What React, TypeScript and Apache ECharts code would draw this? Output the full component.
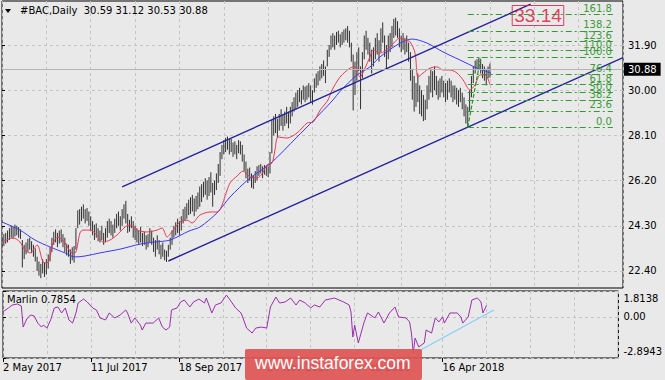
import React, { useEffect, useRef } from 'react';
import * as echarts from 'echarts';

// ---- data ----
const barLow = [
  23.35,23.45,23.55,23.6,23.7,23.8,23.75,23.85,23.9,23.8,23.75,22.55,22.9,23.1,23.2,23.3,23.15,23.0,22.8,22.4,
  22.2,22.1,22.3,22.15,22.25,22.5,22.8,23.2,23.5,23.6,23.4,23.55,23.6,23.4,23.2,23.05,23.0,22.7,22.85,22.75,
  23.3,24.2,24.35,24.5,24.6,24.4,24.5,24.3,24.1,23.9,23.7,23.8,23.65,23.6,23.7,23.5,23.6,23.8,24.0,23.9,
  23.8,24.0,24.2,24.3,24.1,24.3,24.6,24.4,24.0,24.05,24.2,23.8,23.7,23.6,23.5,23.6,23.45,23.5,23.3,23.4,
  23.6,23.5,23.2,23.0,23.3,23.1,22.9,23.0,22.85,22.78,23.0,23.3,23.5,23.8,23.9,24.0,23.9,24.1,24.4,24.5,
  24.6,24.75,24.8,24.9,24.7,24.9,25.0,25.1,25.3,25.5,25.6,25.4,25.55,25.7,25.1,25.6,25.8,26.1,26.4,27.1,
  27.3,27.4,27.5,27.3,27.4,27.2,27.3,27.1,27.35,27.3,27.0,26.6,26.3,26.1,26.2,25.9,25.85,26.1,26.2,26.4,
  26.5,26.3,26.45,26.4,26.35,26.5,27.35,28.1,28.2,28.0,28.3,28.5,28.3,28.5,28.6,28.4,28.6,28.9,29.1,29.2,
  29.3,29.5,29.4,29.6,29.5,29.6,29.7,29.5,29.4,29.9,30.1,30.2,30.4,30.5,30.6,30.3,31.0,31.4,31.7,31.8,
  31.7,31.9,32.0,31.8,31.9,32.0,32.1,32.0,31.8,31.2,29.15,29.8,30.4,30.8,29.2,30.5,31.3,31.7,31.5,31.2,
  30.7,31.0,31.3,31.5,31.2,31.6,32.0,31.4,30.9,31.3,31.6,31.8,32.2,32.3,32.2,31.8,31.6,31.7,31.5,31.6,
  31.2,30.4,29.6,29.1,29.3,29.5,29.0,28.9,28.7,28.75,29.2,29.6,29.9,29.7,30.0,29.8,29.6,29.7,29.9,29.7,
  29.5,29.6,29.9,29.7,29.5,29.6,29.4,29.3,29.5,29.2,28.9,28.6,28.44,29.1,29.7,30.3,30.7,30.9,30.85,30.7,
  30.5,30.4,30.2,30.5,30.53,
];
const barHigh = [
  23.85,23.95,24.0,24.1,24.2,24.3,24.25,24.35,24.3,24.25,24.15,23.7,23.5,23.6,23.75,23.8,23.65,23.5,23.35,23.0,
  22.8,22.7,22.9,22.75,22.9,23.1,23.4,23.8,24.05,24.15,24.0,24.1,24.15,23.95,23.8,23.55,23.5,23.3,23.4,23.45,
  24.2,24.95,25.0,25.1,25.2,25.0,25.05,24.9,24.7,24.5,24.35,24.4,24.2,24.1,24.3,24.0,24.2,24.5,24.6,24.5,
  24.35,24.6,24.8,24.9,24.7,25.0,25.2,25.35,24.8,24.55,24.7,24.5,24.3,24.2,24.1,24.25,24.0,24.05,23.9,23.95,
  24.2,24.1,23.8,23.7,23.9,23.7,23.5,23.6,23.3,23.25,23.5,23.8,24.1,24.3,24.45,24.6,24.5,24.7,25.0,25.1,
  25.25,25.4,25.5,25.6,25.45,25.55,25.7,25.95,26.05,26.15,26.3,26.2,26.35,26.55,26.1,26.2,26.5,26.9,27.4,27.7,
  27.9,28.0,28.05,27.95,27.95,27.8,27.85,27.7,27.9,27.85,27.7,27.3,27.0,26.7,26.75,26.5,26.4,26.6,26.8,26.85,
  26.9,26.8,26.85,26.85,26.8,27.4,28.75,28.9,29.0,28.8,29.0,29.2,29.0,29.1,29.3,29.1,29.3,29.5,29.7,29.9,
  30.0,30.1,30.0,30.2,30.15,30.2,30.3,30.2,30.0,30.5,30.7,30.8,31.0,31.1,31.25,31.0,31.7,31.9,32.3,32.4,
  32.3,32.45,32.5,32.35,32.45,32.55,32.6,32.7,32.5,32.0,31.5,31.2,31.6,31.8,31.0,31.6,32.3,32.5,32.2,32.0,
  31.7,31.8,32.2,32.4,32.1,32.6,32.85,32.3,31.9,32.3,32.4,32.7,33.0,33.05,32.9,32.6,32.3,32.4,32.2,32.3,
  32.0,31.6,30.9,30.6,30.3,30.7,30.2,30.0,29.8,29.6,30.2,30.6,30.9,30.8,31.0,30.6,30.4,30.5,30.6,30.4,
  30.3,30.4,30.5,30.4,30.2,30.2,30.1,30.0,30.1,29.9,29.7,29.4,29.3,30.0,30.6,31.0,31.25,31.3,31.38,31.3,
  31.1,31.0,30.9,31.0,31.12,
];
const lastOpen = 30.59;
const lastHigh = 31.12;
const lastLow = 30.53;
const lastClose = 30.88;

const maSlow = [
  [0,24.46],[9.7,24.12],[17.9,23.70],[26,23.41],[34.1,23.16],[39.5,22.99],[44.9,23.03],[53,23.16],
  [63.9,23.32],[74.7,23.53],[82.8,23.62],[90.9,23.70],[101.2,24.08],[107.1,24.25],[116.3,24.84],
  [123.4,25.51],[134.2,26.31],[145,26.90],[159.6,28.03],[168.3,28.71],[179.1,29.59],[182.9,29.95],
  [192.1,30.64],[199.1,30.98],[204.5,31.40],[215.4,31.98],[221.9,32.15],[230,31.98],[238.6,31.61],
  [247.8,31.27],[257,30.93],[264.6,30.72],
];
const maFast = [
  [0.5,23.62],[6,23.79],[9.7,23.62],[12.4,23.28],[15.2,23.16],[19,23.49],[22.2,22.78],[24.4,22.74],
  [26,22.99],[27.6,23.58],[30.3,23.83],[34.1,23.58],[37.9,23.16],[39.5,23.16],[42.2,24.0],[43.8,24.12],
  [47.6,24.12],[51.4,23.91],[54.7,23.62],[58.4,23.70],[62.2,23.91],[66.6,24.25],[69.3,24.33],[73.1,24.12],
  [78.5,24.04],[83.9,24.12],[86.6,24.21],[89.3,23.83],[92.5,24.12],[96.3,24.46],[100.1,24.54],[102.8,24.42],
  [107.1,24.75],[112.6,24.88],[116.3,24.88],[123.4,26.10],[127.2,26.39],[130.4,26.60],[134.2,26.35],
  [138,26.31],[140.7,26.48],[143.4,26.86],[146.1,26.94],[147.7,27.49],[149.4,28.03],[154.2,27.99],
  [159.6,28.20],[165.1,28.62],[168.3,28.66],[172.2,29.17],[176.4,29.59],[178.6,30.01],[182.9,30.55],
  [188.3,30.93],[191,30.98],[193.7,30.55],[196.4,30.93],[199.1,31.40],[200.8,31.69],[204.5,31.56],
  [209.9,31.82],[215.4,32.19],[218.1,32.11],[220.8,32.03],[223.5,31.56],[225.1,30.55],[227.8,30.72],
  [231.6,30.93],[235.4,30.98],[238.6,30.85],[242.4,30.85],[246.2,30.72],[249.5,30.43],[253.2,30.01],
  [255.9,30.22],[258.7,30.64],[261.4,30.64],[264.1,30.22],
];
const channelUpper = [[65, 25.94], [286, 33.615]];
const channelLower = [[90, 22.82], [336, 31.37]];
const fibStart = [252, 28.44];
const fibEnd = [259, 31.37];
const fibLevels = [0, 23.6, 38.2, 50, 61.8, 76.4, 100, 110, 123.6, 138.2, 161.8];
const fibRightIdx = 330.5;
const targetPoint = [290, 33.14];

const marlin = [
  [0,0.36],[3,0.62],[5,0.83],[8,0.90],[10,0.76],[11,-0.72],[13,-0.15],[15,0.13],[17,0.06],[19,-0.44],
  [21,-0.72],[22,-0.58],[24,-0.79],[26,-0.22],[28,0.62],[30,0.69],[32,0.27],[34,0.62],[36,-0.22],[38,-0.44],
  [40,0.34],[41,0.97],[44,1.25],[46,1.04],[49,0.62],[51,0.48],[53,-0.08],[56,-0.22],[58,0.27],[61,-0.08],
  [64,0.13],[67,0.48],[68,0.27],[70,-0.44],[72,-0.08],[75,-0.58],[76,-0.93],[78,-0.44],[82,-0.44],[85,-0.08],
  [87,-0.72],[89,-0.93],[91,-0.72],[92,0.48],[95,0.62],[97,1.04],[99,1.18],[102,0.69],[104,1.04],[107,1.25],
  [110,0.97],[111,1.32],[114,0.27],[116,0.83],[119,0.97],[122,1.53],[124,1.18],[127,0.62],[130,0.27],[133,-0.79],
  [136,-1.14],[138,-0.79],[141,-0.72],[144,-0.79],[146,0.69],[149,1.39],[151,0.97],[154,1.04],[157,1.32],[160,0.83],
  [162,1.18],[165,0.97],[168,0.62],[170,0.83],[173,0.69],[176,1.18],[181,1.32],[186,1.04],[189,0.83],[190,0.34],
  [191,-1.42],[192,-0.58],[194,-1.84],[197,-0.44],[199,0.27],[203,-0.08],[205,0.34],[208,-0.44],[211,0.27],[214,0.69],
  [216,-0.01],[220,-0.08],[222,-0.36],[223,-1.14],[224,-2.54],[225,-1.49],[227,-2.12],[230,-1.84],[231,-0.93],[234,-1.14],
  [236,-0.08],[238,-0.36],[240,-0.01],[241,-0.44],[244,0.27],[248,0.27],[250,-0.01],[251,-0.44],[254,-0.01],[256,1.18],
  [259,1.32],[261,1.04],[262,0.27],[264,0.7854],
];
const marlinTrend = [[225, -2.54], [268, 0.48]];
const marlinLast = 0.7854;

const priceTicks = [22.40, 24.30, 26.20, 28.10, 30.00, 31.90];
const marlinTicks = [-2.8943, 0, 1.8138];
const dateTickIdx = [0, 48, 96, 144, 192, 240];
const dateTickLabels = ['2 May 2017', '11 Jul 2017', '18 Sep 2017', '24 Nov 2017', '5 Feb 2018', '16 Apr 2018'];

const FONT = '"DejaVu Sans", sans-serif';
const GRID_LINE = { show: true, lineStyle: { color: '#c4c4c4', type: [3, 3] as any, width: 1 } };

export default function App() {
  const ref = useRef<HTMLDivElement>(null);
  useEffect(() => {
    if (!ref.current) return;
    const chart = echarts.init(ref.current, undefined, { renderer: 'svg' });
    const fibRange = fibEnd[1] - fibStart[1];
    const barData = barLow.map((l, i) => [i, l, barHigh[i]]);

    chart.setOption({
      animation: false,
      backgroundColor: '#e9e9e9',
      textStyle: { fontFamily: FONT },
      grid: [
        { left: 2, top: 1, width: 621, height: 287, show: true, borderColor: '#000', borderWidth: 1, backgroundColor: 'transparent' },
        { left: 2, top: 291, width: 621, height: 67, show: true, borderColor: '#000', borderWidth: 1, backgroundColor: 'transparent' },
      ],
      xAxis: [
        { gridIndex: 0, type: 'value', min: 0, max: 336, interval: 24, axisLine: { show: false }, axisTick: { show: false }, axisLabel: { show: false }, splitLine: GRID_LINE },
        { gridIndex: 1, type: 'value', min: 0, max: 336, interval: 24, axisLine: { show: false }, axisTick: { show: false }, axisLabel: { show: false }, splitLine: GRID_LINE },
        {
          gridIndex: 1, type: 'value', min: 0, max: 336, position: 'bottom',
          axisLine: { show: false },
          axisTick: { show: true, customValues: dateTickIdx, length: 4, lineStyle: { color: '#000' } },
          axisLabel: {
            customValues: dateTickIdx, align: 'left', margin: 4, color: '#000', fontSize: 10, fontFamily: FONT,
            formatter: (v: number) => { const k = dateTickIdx.indexOf(Math.round(v)); return k >= 0 ? dateTickLabels[k] : ''; },
          },
          splitLine: { show: false },
        },
      ],
      yAxis: [
        {
          gridIndex: 0, type: 'value', position: 'right', min: 21.685, max: 33.75,
          axisLine: { show: false },
          axisTick: { show: true, customValues: priceTicks, length: 3, lineStyle: { color: '#000' } },
          axisLabel: { customValues: priceTicks, color: '#000', fontSize: 10, fontFamily: FONT, margin: 5, formatter: (v: number) => v.toFixed(2) },
          splitLine: GRID_LINE,
        },
        {
          gridIndex: 1, type: 'value', position: 'right', min: -2.8943, max: 1.8138,
          axisLine: { show: false },
          axisTick: { show: true, customValues: marlinTicks, length: 3, lineStyle: { color: '#000' } },
          axisLabel: {
            customValues: marlinTicks, color: '#000', fontSize: 10, fontFamily: FONT, margin: 5,
            formatter: (v: number) => (v > 1 ? '{t|' + v.toFixed(4) + '}' : v < -1 ? '{b|' + v.toFixed(4) + '}' : v.toFixed(2)),
            rich: {
              t: { padding: [15, 0, 0, 0], fontSize: 10, color: '#000', fontFamily: FONT },
              b: { padding: [0, 0, 13, 0], fontSize: 10, color: '#000', fontFamily: FONT },
            },
          },
          splitLine: GRID_LINE,
        },
      ],
      series: [
        {
          type: 'custom', name: 'bars', xAxisIndex: 0, yAxisIndex: 0, data: barData,
          encode: { x: 0, y: [1, 2] }, clip: true,
          renderItem: (params: any, api: any) => {
            const i = api.value(0);
            const lo = api.coord([i, api.value(1)]);
            const hi = api.coord([i, api.value(2)]);
            return { type: 'line', shape: { x1: lo[0], y1: lo[1], x2: hi[0], y2: hi[1] }, style: { stroke: '#303030', lineWidth: 1 } };
          },
          z: 2,
        },
        {
          type: 'line', name: 'maSlow', xAxisIndex: 0, yAxisIndex: 0, data: maSlow, symbol: 'none', smooth: 0.3,
          lineStyle: { color: '#3a3af2', width: 1 }, z: 3,
          markLine: {
            silent: true, symbol: ['none', 'none'],
            lineStyle: { color: '#b4b4b4', type: 'solid', width: 1 },
            label: { position: 'end', distance: 1, formatter: lastClose.toFixed(2), backgroundColor: '#000', color: '#fff', fontSize: 10, fontFamily: FONT, padding: [2, 4, 1, 4] },
            data: [{ yAxis: lastClose }],
          },
        },
        { type: 'line', name: 'maFast', xAxisIndex: 0, yAxisIndex: 0, data: maFast, symbol: 'none', smooth: 0.3, lineStyle: { color: '#e63a55', width: 1 }, z: 3 },
        { type: 'line', name: 'chUp', xAxisIndex: 0, yAxisIndex: 0, data: channelUpper, symbol: 'none', lineStyle: { color: '#23239c', width: 1.4 }, z: 4 },
        { type: 'line', name: 'chLo', xAxisIndex: 0, yAxisIndex: 0, data: channelLower, symbol: 'none', lineStyle: { color: '#23239c', width: 1.4 }, z: 4 },
        {
          type: 'line', name: 'fib', xAxisIndex: 0, yAxisIndex: 0, data: [fibStart, fibEnd], symbol: 'none',
          lineStyle: { color: '#1f9a1f', width: 1.2, type: [4, 2] }, z: 4,
          markLine: {
            silent: true, symbol: ['none', 'none'],
            lineStyle: { color: '#2e9e2e', width: 1.2, type: [6, 3, 2, 3] },
            label: { position: 'insideEndTop', distance: 1, formatter: '{b}', color: '#3a9a3a', fontSize: 10, fontFamily: FONT },
            data: fibLevels.map((lv) => {
              const p = fibStart[1] + (lv / 100) * fibRange;
              return [{ coord: [fibStart[0], p], name: lv.toFixed(1) }, { coord: [fibRightIdx, p] }];
            }),
          },
        },
        {
          type: 'scatter', name: 'target', xAxisIndex: 0, yAxisIndex: 0, data: [targetPoint], symbolSize: 0, z: 5,
          label: {
            show: true, position: 'inside', formatter: targetPoint[1].toFixed(2), color: '#dc143c', fontSize: 19,
            fontFamily: '"Liberation Sans", Arial, sans-serif', borderColor: '#dc143c', borderWidth: 1, padding: [1, 2, 0, 2],
          },
        },
        { type: 'line', name: 'marlin', xAxisIndex: 1, yAxisIndex: 1, data: marlin, symbol: 'none', lineStyle: { color: '#9b2fae', width: 1 }, z: 3 },
        { type: 'line', name: 'marlinTrend', xAxisIndex: 1, yAxisIndex: 1, data: marlinTrend, symbol: 'none', lineStyle: { color: '#87cefa', width: 1.3 }, z: 2 },
      ],
      graphic: [
        { type: 'polygon', shape: { points: [[5, 9], [11, 9], [8, 13]] }, style: { fill: '#000' }, z: 10 },
        {
          type: 'text', x: 20, y: 5, z: 10,
          style: { text: '#BAC,Daily  ' + [lastOpen, lastHigh, lastLow, lastClose].map((v) => v.toFixed(2)).join(' '), fill: '#000', font: '10px ' + FONT },
        },
        { type: 'text', x: 7, y: 294, z: 10, style: { text: 'Marlin ' + marlinLast.toFixed(4), fill: '#000', font: '10px ' + FONT } },
        {
          type: 'group', x: 245, y: 349, zlevel: 5, z: 100,
          children: [
            { type: 'rect', zlevel: 5, z: 100, shape: { x: 0, y: 0, width: 177, height: 31, r: 2 }, style: { fill: 'rgba(222,84,84,0.92)' } },
            { type: 'text', zlevel: 5, z: 101, x: 10, y: 5, style: { text: 'www.instaforex.com', fill: '#fff', font: '17.5px "Liberation Sans", Arial, sans-serif' } },
          ],
        },
      ],
    });
    return () => chart.dispose();
  }, []);
  return <div ref={ref} style={{ position: 'absolute', left: 0, top: 0, width: 665, height: 380 }} />;
}
